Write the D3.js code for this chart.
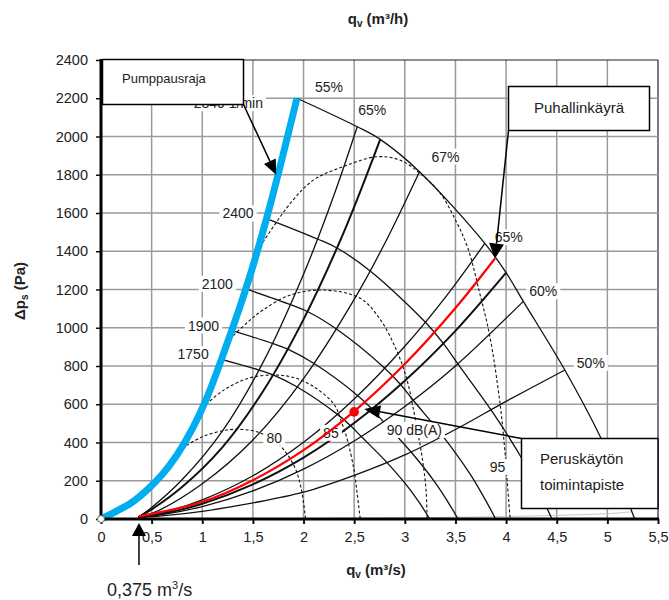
<!DOCTYPE html>
<html><head><meta charset="utf-8">
<script src="https://cdn.jsdelivr.net/npm/d3@7"></script>
<style>
body{margin:0;background:#fff}
svg{display:block}
text{font-family:"Liberation Sans",Arial,sans-serif;fill:#222}
</style></head>
<body><svg id="c" width="669" height="600"></svg>
<script>
// ---------- data ----------
const xTicks = [0,0.5,1,1.5,2,2.5,3,3.5,4,4.5,5,5.5];
const xTickLabels = ["0","0,5","1","1,5","2","2,5","3","3,5","4","4,5","5","5,5"];
const yTicks = [0,200,400,600,800,1000,1200,1400,1600,1800,2000,2200,2400];
const yTickLabels = ["0","200","400","600","800","1000","1200","1400","1600","1800","2000","2200","2400"];

// speed curves [q m3/s, dp Pa]
const rpm2840 = [[1.935,2200],[2.53,2051],[2.757,1985],[3.145,1816],[3.79,1441],[4.0,1288],[4.17,1138],[4.58,779],[4.93,430],[5.12,200],[5.27,0]];
const rpm2400 = [[1.635,1571],[2.138,1464],[2.330,1417],[2.658,1297],[3.203,1029],[3.380,918],[3.524,811],[3.870,556],[4.166,307],[4.326,143],[4.453,0]];
const rpm2100 = [[1.431,1203],[1.871,1121],[2.039,1085],[2.325,993],[2.802,788],[2.958,703],[3.083,621],[3.387,426],[3.645,235],[3.786,109],[3.897,0]];
const rpm1900 = [[1.294,985],[1.693,918],[1.844,888],[2.104,813],[2.536,645],[2.676,575],[2.790,508],[3.064,349],[3.298,192],[3.425,90],[3.526,0]];
const rpm1750 = [[1.192,835],[1.559,779],[1.699,754],[1.938,690],[2.335,547],[2.465,488],[2.570,431],[2.822,296],[3.038,163],[3.155,76],[3.247,0]];
const speedLabels = ["1750","1900","2100","2400","2840 1/min"];

// efficiency lines
const eff65a = [[0.37,10],[0.5,60],[0.8,205],[1.2,461],[1.6,819],[2.0,1280],[2.3,1693],[2.53,2051]];
const effA   = [[0.37,10],[0.5,50],[0.8,167],[1.2,376],[1.6,668],[2.0,1044],[2.4,1503],[2.757,1985]];
const eff67  = [[0.37,10],[0.55,40],[1.0,184],[1.5,413],[2.0,734],[2.5,1148],[2.8,1439],[3.145,1816]];
const eff65b = [[0.37,10],[0.6,32],[1.0,100],[1.5,226],[2.0,401],[2.5,627],[3.0,903],[3.4,1159],[3.79,1441]];
const effB   = [[0.37,10],[0.6,27],[1.0,80],[1.5,181],[2.0,321],[2.5,502],[3.0,723],[3.5,984],[4.0,1288]];
const eff60  = [[0.37,10],[0.6,23],[1.0,65],[1.5,147],[2.0,261],[2.5,408],[3.0,588],[3.5,800],[4.17,1138]];
const eff50  = [[0.37,8],[0.6,16],[1.0,40],[1.5,84],[2.0,140],[2.5,228],[3.0,335],[3.5,468],[4.0,615],[4.58,779]];
const effLow = [[2.0,2],[3.0,6],[4.0,13],[4.5,19],[5.0,28],[5.25,38]];
const effLabels = ["55%","65%","67%","65%","60%","50%"];

// fan curve (red) and operating point
const fanCurve = [[0.375,14],[1.0,90],[1.5,203],[2.0,360],[2.5,563],[3.0,810],[3.5,1103],[3.89,1362]];
const opPoint = [2.5,560];
const minFlow = 0.375;

// surge limit (blue)
const surge = [[0,0],[0.15,40],[0.3,85],[0.45,150],[0.6,230],[0.75,335],[0.9,470],[1.05,640],[1.19,836],[1.43,1203],[1.635,1571],[1.935,2200]];

// sound level lines (dashed)
const db80 = [[0.8,370],[1.0,430],[1.24,465],[1.4,468],[1.54,456],[1.68,420],[1.80,365],[1.92,262],[1.98,150],[2.02,0]];
const db85 = [[1.0,580],[1.2,670],[1.45,735],[1.7,753],[1.9,740],[2.1,692],[2.3,600],[2.38,500],[2.44,400],[2.50,250],[2.53,130],[2.56,0]];
const db90 = [[1.27,940],[1.45,1030],[1.6,1093],[1.87,1171],[2.2,1197],[2.56,1154],[2.76,1041],[2.92,880],[3.02,730],[3.09,560],[3.14,420],[3.18,290],[3.21,150],[3.22,0]];
const db95 = [[1.57,1424],[1.87,1651],[2.10,1773],[2.39,1842],[2.72,1894],[2.95,1877],[3.15,1807],[3.35,1703],[3.50,1563],[3.62,1420],[3.74,1180],[3.84,953],[3.94,605],[3.99,343],[4.01,204],[4.04,0]];
const dbLabels = ["80","85","90 dB(A)","95"];

// ---------- drawing ----------
const svg = d3.select("#c");
const x = d3.scaleLinear().domain([0,5.5]).range([101,658]);
const y = d3.scaleLinear().domain([0,2400]).range([519,60]);
const line = d3.line().x(d=>x(d[0])).y(d=>y(d[1])).curve(d3.curveCatmullRom.alpha(0.5));

// grid
const grid = svg.append("g");
grid.selectAll(".gx").data(xTicks.slice(1)).join("line")
  .attr("x1",d=>x(d)).attr("x2",d=>x(d)).attr("y1",y(0)).attr("y2",y(2400))
  .attr("stroke",d=>d===5.5?"#222":"#9a9a9a").attr("stroke-width",d=>d===5.5?1.2:1.5);
grid.selectAll(".gy").data(yTicks.slice(1)).join("line")
  .attr("x1",x(0)).attr("x2",x(5.5)).attr("y1",d=>y(d)).attr("y2",d=>y(d))
  .attr("stroke",d=>d===2400?"#222":"#9a9a9a").attr("stroke-width",d=>d===2400?1.2:1.5);

// curves
const curves = svg.append("g").attr("fill","none").attr("stroke","#111");
curves.append("path").attr("d",line(effLow)).attr("stroke","#c8c8c8").attr("stroke-width",1);
[rpm2840,rpm2400,rpm2100,rpm1900,rpm1750].forEach(c=>
  curves.append("path").attr("d",line(c)).attr("stroke-width",1.3));
[eff65a,eff67,eff65b,eff60,eff50].forEach(c=>
  curves.append("path").attr("d",line(c)).attr("stroke-width",1.3));
[effA,effB].forEach(c=>
  curves.append("path").attr("d",line(c)).attr("stroke-width",2));
[db80,db85,db90,db95].forEach(c=>
  curves.append("path").attr("d",line(c)).attr("stroke-width",1.1).attr("stroke-dasharray","3,2.2"));

// labels with white background
const labs = svg.append("g");
function label(txt, cx, cy, anchor, size){
  const g = labs.append("g");
  const t = g.append("text").attr("x",cx).attr("y",cy).attr("dy","0.35em")
    .attr("text-anchor",anchor||"middle").style("font-size",(size||14)+"px").text(txt);
  const b = t.node().getBBox();
  g.insert("rect","text").attr("x",b.x-3).attr("y",b.y).attr("width",b.width+6).attr("height",b.height).attr("fill","#fff");
}
const speedStarts = [rpm1750[0],rpm1900[0],rpm2100[0],rpm2400[0]];
speedStarts.forEach((s,i)=> label(speedLabels[i], x(s[0])-13, y(s[1])-5, "end"));
label(speedLabels[4], x(rpm2840[0][0])-34, y(rpm2840[0][1])+5, "end");
const effEnds = [rpm2840[0], eff65a[eff65a.length-1], eff67[eff67.length-1], eff65b[eff65b.length-1], eff60[eff60.length-1], eff50[eff50.length-1]];
const effOff = [[32,-11],[15,-17],[26,-15],[24,-6],[20,-10],[26,-7]];
effEnds.forEach((e,i)=> label(effLabels[i], x(e[0])+effOff[i][0], y(e[1])+effOff[i][1]));
label(dbLabels[0], x(1.71), y(424));
label(dbLabels[1], x(2.27), y(450));
label(dbLabels[2], x(3.094), y(465));
label(dbLabels[3], x(3.915), y(272));

// red fan curve + operating point
svg.append("path").attr("d",line(fanCurve)).attr("fill","none").attr("stroke","#ff0000").attr("stroke-width",2.2);
svg.append("circle").attr("cx",x(opPoint[0])).attr("cy",y(opPoint[1])).attr("r",4.8).attr("fill","#ff0000");

// surge limit (blue)
svg.append("path").attr("d",line(surge)).attr("fill","none").attr("stroke","#00aeef").attr("stroke-width",7);

// axes
const ax = svg.append("g").attr("transform",`translate(${x(0)},0)`)
  .call(d3.axisLeft(y).tickValues(yTicks).tickFormat((d,i)=>yTickLabels[i]).tickSize(5).tickPadding(8));
ax.select(".domain").remove();
ax.selectAll(".tick line").attr("stroke","#111").attr("stroke-width",1.5);
ax.selectAll(".tick text").style("font-size","14.5px").style("font-family","Liberation Sans, Arial, sans-serif").attr("fill","#222");
const bx = svg.append("g").attr("transform",`translate(0,${y(0)})`)
  .call(d3.axisBottom(x).tickValues(xTicks).tickFormat((d,i)=>xTickLabels[i]).tickSize(5).tickPadding(8));
bx.select(".domain").remove();
bx.selectAll(".tick line").attr("stroke","#111").attr("stroke-width",2);
bx.selectAll(".tick text").style("font-size","14.5px").style("font-family","Liberation Sans, Arial, sans-serif").attr("fill","#222");
svg.append("line").attr("x1",x(0)).attr("x2",x(0)).attr("y1",y(2400)-1).attr("y2",y(0)+1.5).attr("stroke","#000").attr("stroke-width",3);
svg.append("line").attr("x1",x(0)-1.5).attr("x2",x(5.5)+1).attr("y1",y(0)).attr("y2",y(0)).attr("stroke","#000").attr("stroke-width",3);
svg.append("circle").attr("cx",x(0)).attr("cy",y(0)).attr("r",3.5).attr("fill","#fff").attr("stroke","#666").attr("stroke-width",1);

// arrows helper
function arrow(x1,y1,x2,y2,len,w){
  len=len||14; w=w||12;
  const a = Math.atan2(y2-y1,x2-x1);
  const bxp = x2-len*Math.cos(a), byp = y2-len*Math.sin(a);
  svg.append("line").attr("x1",x1).attr("y1",y1).attr("x2",bxp).attr("y2",byp).attr("stroke","#000").attr("stroke-width",1.5);
  const px = -Math.sin(a)*w/2, py = Math.cos(a)*w/2;
  svg.append("path").attr("d",`M${x2},${y2}L${bxp+px},${byp+py}L${bxp-px},${byp-py}Z`).attr("fill","#000");
}
function box(x0,y0,x1,y1){
  svg.append("rect").attr("x",x0).attr("y",y0).attr("width",x1-x0).attr("height",y1-y0)
    .attr("fill","#fff").attr("stroke","#000").attr("stroke-width",1.5);
}

box(102.5,59.5,243.5,104.5);
svg.append("text").attr("x",122).attr("y",83).style("font-size","13px").attr("fill","#000").text("Pumppausraja");
arrow(243.5,104.5,x(1.73),y(1800),15,13);

box(508.5,86.5,649.5,130.5);
svg.append("text").attr("x",579).attr("y",113).attr("text-anchor","middle").style("font-size","15px").attr("fill","#000").text("Puhallinkäyrä");
arrow(508.5,130.5,x(fanCurve[fanCurve.length-1][0]),y(fanCurve[fanCurve.length-1][1]),15,15);

box(521.5,438.5,658,508.5);
svg.append("text").attr("x",540).attr("y",464).style("font-size","15px").attr("fill","#000").text("Peruskäytön");
svg.append("text").attr("x",540).attr("y",490).style("font-size","15px").attr("fill","#000").text("toimintapiste");
arrow(521.5,438.5,x(opPoint[0])+10,y(opPoint[1])-3,16,13);

arrow(x(minFlow),565,x(minFlow),523,13,14);
const mt = svg.append("text").attr("x",107).attr("y",596).style("font-size","18px").attr("fill","#000");
mt.append("tspan").text("0,375 m");
mt.append("tspan").attr("dy",-7).style("font-size","11px").text("3");
mt.append("tspan").attr("dy",7).text("/s");

function title(g, main, sub, rest){
  g.append("tspan").text(main);
  g.append("tspan").attr("dy",3).style("font-size","10px").text(sub);
  g.append("tspan").attr("dy",-3).text(rest);
}
const tTop = svg.append("text").attr("x",378).attr("y",24).attr("text-anchor","middle").style("font-size","15px").style("font-weight","bold").attr("fill","#222");
title(tTop,"q","v"," (m³/h)");
const tBot = svg.append("text").attr("x",376).attr("y",575).attr("text-anchor","middle").style("font-size","15px").style("font-weight","bold").attr("fill","#222");
title(tBot,"q","v"," (m³/s)");
const tLeft = svg.append("text").attr("transform","translate(25,291) rotate(-90)").attr("text-anchor","middle").style("font-size","15px").style("font-weight","bold").attr("fill","#222");
title(tLeft,"Δp","s"," (Pa)");
</script>
</body></html>
